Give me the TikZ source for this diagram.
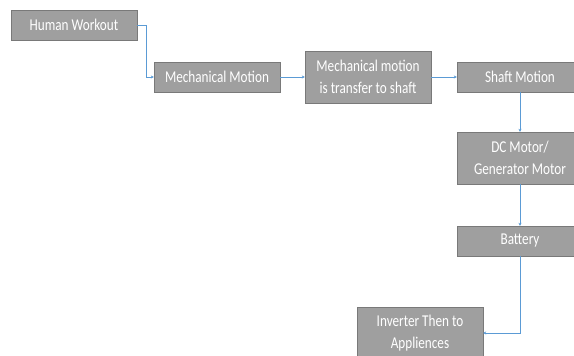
\documentclass[tikz,border=0pt]{standalone}
\usepackage{fontspec}
\setmainfont{Carlito}[FakeStretch=0.8]
\usetikzlibrary{arrows.meta,positioning}
\tikzset{blk/.style={draw=gray!95!black,fill=gray!75,text=white,align=center,font=\fontsize{16.5}{22}\selectfont,minimum width=126pt,minimum height=30pt,inner sep=1pt},
 tall/.style={blk,minimum height=52pt},
 ar/.style={draw={rgb,255:red,91;green,155;blue,213},-{Stealth[length=3pt,width=3pt]},line width=0.6pt}}

\begin{document}
\begin{tikzpicture}[x=1pt,y=-1pt]
\clip(0,0)rectangle(574,356);\useasboundingbox(0,0)rectangle(574,356);
\node[blk](hw)at(74,25){Human Workout};\node[blk](mm)at(217,77){Mechanical Motion};
\node[tall](mt)at(368,77){Mechanical motion\\is transfer to shaft};\node[blk](sm)at(520,77){Shaft Motion};
\node[tall](dc)at(520,158){DC Motor/\\Generator Motor};\node[blk](bat)at(520,241){Battery};
\node[tall](inv)at(420,333){Inverter Then to\\Appliences};
\coordinate(k1)at(146,25);\coordinate(k2)at(520,333);
\draw[ar](hw.east)--(k1)|-(mm.west);\draw[ar](mm)--(mt);\draw[ar](mt)--(sm);
\draw[ar](sm)--(dc);\draw[ar](dc)--(bat);\draw[ar](bat.south)--(k2)--(inv.east);
\end{tikzpicture}
\end{document}
